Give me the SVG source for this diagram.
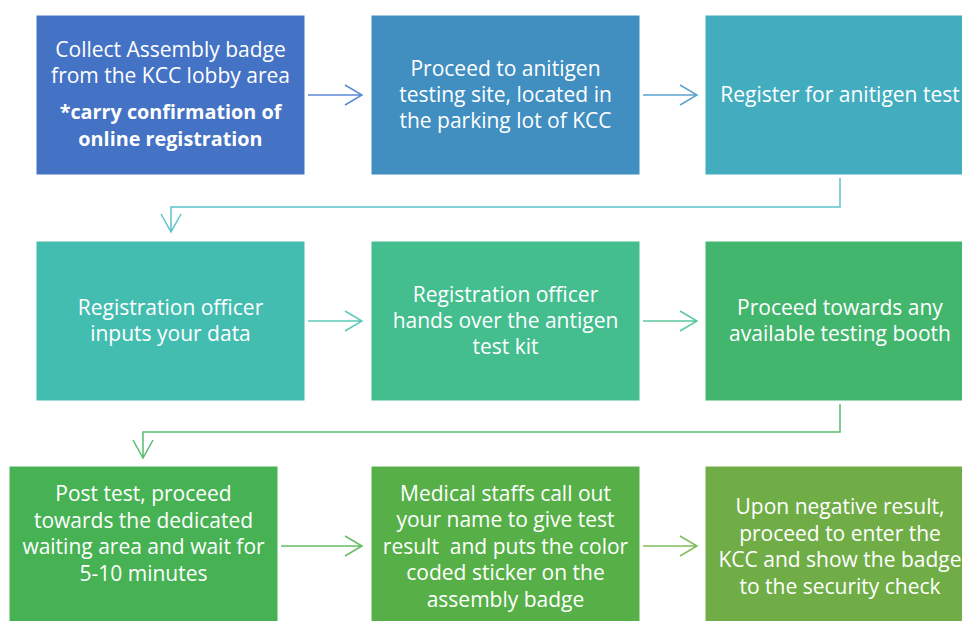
<svg xmlns="http://www.w3.org/2000/svg" width="962" height="621" viewBox="0 0 962 621">
<defs>
<style>
.t{font-family:"Open Sans","Noto Sans",sans-serif;font-size:21px;fill:#ffffff;text-anchor:middle}
.b{font-weight:bold;font-size:19.8px}
.box{stroke:#ffffff;stroke-width:1}
.c{fill:none;stroke-width:1.5}
</style>
</defs>
<rect width="962" height="621" fill="#ffffff"/>
<g id="connectors">
<path class="c" stroke="#5B8BD3" d="M308 95H362M345 85L362 95L345 105"/>
<path class="c" stroke="#5CA3CF" d="M643 95H697M680 85L697 95L680 105"/>
<path class="c" stroke="#5CC3CA" d="M840 178V207H171V232M161 214L171 232L181 214"/>
<path class="c" stroke="#5CCAB8" d="M308 321H362M345 311L362 321L345 331"/>
<path class="c" stroke="#5CC89C" d="M643 321H697M680 311L697 321L680 331"/>
<path class="c" stroke="#55BD70" d="M840 404V432H143V458M133 440L143 458L153 440"/>
<path class="c" stroke="#64BE64" d="M281 546H362M345 536L362 546L345 556"/>
<path class="c" stroke="#7DBE5C" d="M643 546H697M680 536L697 546L680 556"/>
</g>
<g id="n1">
<rect class="box" x="36" y="15" width="269" height="160" fill="#4472C4"/>
<text class="t" x="170.5" y="57">Collect Assembly badge</text>
<text class="t" x="170.5" y="83">from the KCC lobby area</text>
<text class="t b" x="170.5" y="119">*carry confirmation of</text>
<text class="t b" x="170.5" y="146">online registration</text>
</g>
<g id="n2">
<rect class="box" x="371" y="15" width="269" height="160" fill="#418EC1"/>
<text class="t" x="505.5" y="76">Proceed to anitigen</text>
<text class="t" x="505.5" y="102">testing site, located in</text>
<text class="t" x="505.5" y="128">the parking lot of KCC</text>
</g>
<g id="n3">
<rect class="box" x="705" y="15" width="270" height="160" fill="#43ADBF"/>
<text class="t" x="840" y="102">Register for anitigen test</text>
</g>
<g id="n4">
<rect class="box" x="36" y="241" width="269" height="160" fill="#44BDB1"/>
<text class="t" x="170.5" y="315">Registration officer</text>
<text class="t" x="170.5" y="341">inputs your data</text>
</g>
<g id="n5">
<rect class="box" x="371" y="241" width="269" height="160" fill="#44BD8F"/>
<text class="t" x="505.5" y="302">Registration officer</text>
<text class="t" x="505.5" y="328">hands over the antigen</text>
<text class="t" x="505.5" y="354">test kit</text>
</g>
<g id="n6">
<rect class="box" x="705" y="241" width="270" height="160" fill="#43B66E"/>
<text class="t" x="840" y="315">Proceed towards any</text>
<text class="t" x="840" y="341">available testing booth</text>
</g>
<g id="n7">
<rect class="box" x="9" y="466" width="269" height="160" fill="#47B254"/>
<text class="t" x="143.5" y="501">Post test, proceed</text>
<text class="t" x="143.5" y="527.5">towards the dedicated</text>
<text class="t" x="143.5" y="554">waiting area and wait for</text>
<text class="t" x="143.5" y="580.5">5-10 minutes</text>
</g>
<g id="n8">
<rect class="box" x="371" y="466" width="269" height="160" fill="#57B047"/>
<text class="t" x="505.5" y="500.5">Medical staffs call out</text>
<text class="t" x="505.5" y="527">your name to give test</text>
<text class="t" x="505.5" y="553.5" xml:space="preserve">result  and puts the color</text>
<text class="t" x="505.5" y="580">coded sticker on the</text>
<text class="t" x="505.5" y="606.5">assembly badge</text>
</g>
<g id="n9">
<rect class="box" x="705" y="466" width="270" height="160" fill="#70AD47"/>
<text class="t" x="840" y="514">Upon negative result,</text>
<text class="t" x="840" y="540.5">proceed to enter the</text>
<text class="t" x="840" y="567">KCC and show the badge</text>
<text class="t" x="840" y="593.5">to the security check</text>
</g>
</svg>
